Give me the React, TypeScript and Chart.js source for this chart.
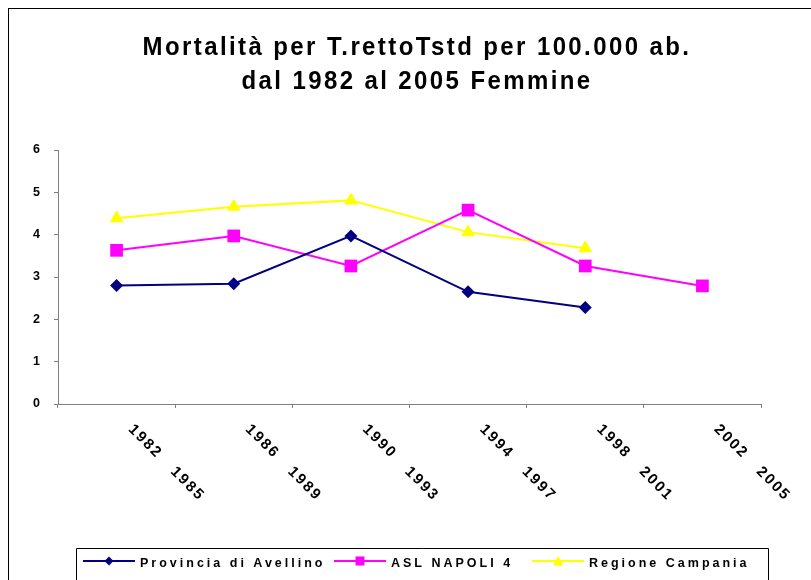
import React, { useEffect, useRef } from "react";
import { Chart, registerables } from "chart.js";

Chart.register(...registerables);

const categories = ["1982   1985", "1986   1989", "1990   1993", "1994   1997", "1998   2001", "2002   2005"];
const avellino = [2.8, 2.84, 3.97, 2.65, 2.28, null];
const napoli = [3.63, 3.97, 3.26, 4.58, 3.26, 2.79];
const campania = [4.39, 4.66, 4.81, 4.06, 3.68, null];
const seriesNames = ["Provincia di Avellino", "ASL NAPOLI 4", "Regione Campania"];
const titleLines = ["Mortalità per T.rettoTstd per 100.000 ab.", "dal 1982 al 2005 Femmine"];
const yTicks = [0, 1, 2, 3, 4, 5, 6];

const FONT = '"Liberation Sans", Arial, Helvetica, sans-serif';
const NAVY = "#000080";
const MAGENTA = "#FF00FF";
const YELLOW = "#FFFF00";

function drawMarker(ctx: CanvasRenderingContext2D, style: string, x: number, y: number, s: number, color: string) {
  ctx.save();
  ctx.fillStyle = color;
  ctx.beginPath();
  if (style === "diamond") {
    ctx.moveTo(x, y - s);
    ctx.lineTo(x + s, y);
    ctx.lineTo(x, y + s);
    ctx.lineTo(x - s, y);
  } else if (style === "square") {
    ctx.rect(x - s, y - s, 2 * s, 2 * s);
  } else {
    ctx.moveTo(x, y - s);
    ctx.lineTo(x + s * 1.05, y + s * 0.9);
    ctx.lineTo(x - s * 1.05, y + s * 0.9);
  }
  ctx.closePath();
  ctx.fill();
  ctx.restore();
}

const decorPlugin = {
  id: "decor",
  afterDraw(chart: any) {
    const ctx: CanvasRenderingContext2D = chart.ctx;
    const xs = chart.scales.x;
    const area = chart.chartArea;
    ctx.save();
    // Title
    ctx.fillStyle = "#000";
    ctx.font = `bold 24px ${FONT}`;
    (ctx as any).letterSpacing = "2.4px";
    ctx.textAlign = "center";
    ctx.textBaseline = "alphabetic";
    [46, 80].forEach((by, i) => {
      ctx.save();
      ctx.translate(408, by);
      ctx.scale(1, 1.05);
      ctx.fillText(titleLines[i], 0, 0);
      ctx.restore();
    });

    // X labels rotated
    ctx.font = `bold 15px ${FONT}`;
    (ctx as any).letterSpacing = "2px";
    ctx.textAlign = "left";
    ctx.textBaseline = "middle";
    categories.forEach((lab, i) => {
      const px = xs.getPixelForValue(i);
      ctx.save();
      ctx.translate(px + 14, area.bottom + 23);
      ctx.rotate(Math.PI / 4);
      ctx.fillText(lab, 0, 0);
      ctx.restore();
    });

    // Legend
    const lx = 67, ly = 539, rx = 759;
    ctx.strokeStyle = "#000";
    ctx.lineWidth = 1;
    ctx.beginPath();
    ctx.moveTo(lx + 0.5, chart.height + 5);
    ctx.lineTo(lx + 0.5, ly + 0.5);
    ctx.lineTo(rx + 0.5, ly + 0.5);
    ctx.lineTo(rx + 0.5, chart.height + 5);
    ctx.stroke();

    const items = [
      { name: seriesNames[0], color: NAVY, marker: "diamond", tx: 131, s: 4.5 },
      { name: seriesNames[1], color: MAGENTA, marker: "square", tx: 382, s: 4.5 },
      { name: seriesNames[2], color: YELLOW, marker: "triangle", tx: 580, s: 5 },
    ];
    const lineY = 552;
    ctx.font = `bold 12.5px ${FONT}`;
    (ctx as any).letterSpacing = "3px";
    ctx.textAlign = "left";
    ctx.textBaseline = "alphabetic";
    items.forEach((it) => {
      ctx.strokeStyle = it.color;
      ctx.lineWidth = 2;
      ctx.beginPath();
      ctx.moveTo(it.tx - 57, lineY);
      ctx.lineTo(it.tx - 5, lineY);
      ctx.stroke();
      drawMarker(ctx, it.marker, it.tx - 31, lineY, it.s, it.color);
      ctx.fillStyle = "#000";
      ctx.fillText(it.name, it.tx, 558);
    });
    (ctx as any).letterSpacing = "0px";
    ctx.restore();
  },
};

export default function App() {
  const ref = useRef<HTMLCanvasElement | null>(null);
  useEffect(() => {
    if (!ref.current) return;
    const chart = new Chart(ref.current, {
      type: "line",
      data: {
        labels: categories,
        datasets: [
          {
            label: seriesNames[0],
            data: avellino,
            borderColor: NAVY,
            backgroundColor: NAVY,
            borderWidth: 2,
            pointStyle: "rectRot",
            pointRadius: 6.5,
            pointBorderWidth: 0,
            tension: 0,
          },
          {
            label: seriesNames[1],
            data: napoli,
            borderColor: MAGENTA,
            backgroundColor: MAGENTA,
            borderWidth: 2,
            pointStyle: "rect",
            pointRadius: 9,
            pointBorderWidth: 0,
            tension: 0,
          },
          {
            label: seriesNames[2],
            data: campania,
            borderColor: YELLOW,
            backgroundColor: YELLOW,
            borderWidth: 2,
            pointStyle: "triangle",
            pointRadius: 8,
            pointBorderWidth: 0,
            tension: 0,
          },
        ],
      },
      options: {
        responsive: false,
        animation: false,
        spanGaps: false,
        layout: { padding: { top: 141, right: 50, bottom: 172, left: 0 } },
        plugins: {
          legend: { display: false },
          title: { display: false },
          tooltip: { enabled: false },
        },
        scales: {
          x: {
            type: "category",
            offset: true,
            grid: { offset: true, drawOnChartArea: false, drawTicks: true, tickLength: 4, color: "#808080", lineWidth: 1 },
            border: { color: "#808080", width: 1 },
            ticks: { display: false },
            afterFit: (s: any) => { s.height = 4; },
          },
          y: {
            min: 0,
            max: 6,
            afterBuildTicks: (s: any) => { s.ticks = yTicks.map((v) => ({ value: v })); },
            grid: { drawOnChartArea: false, drawTicks: true, tickLength: 4, color: "#808080", lineWidth: 1 },
            border: { color: "#808080", width: 1 },
            ticks: { color: "#000", padding: 14, font: { family: FONT, size: 12.5, weight: "bold" } },
            afterFit: (s: any) => { s.width = 49; },
          },
        },
      },
      plugins: [decorPlugin],
    } as any);
    return () => chart.destroy();
  }, []);
  return (
    <div
      style={{
        position: "fixed",
        left: 8,
        top: 8,
        width: 803,
        height: 572,
        boxSizing: "border-box",
        borderLeft: "1px solid #000",
        borderTop: "1px solid #000",
        background: "#fff",
        overflow: "hidden",
      }}
    >
      <canvas ref={ref} width={802} height={571} style={{ display: "block" }} />
    </div>
  );
}
